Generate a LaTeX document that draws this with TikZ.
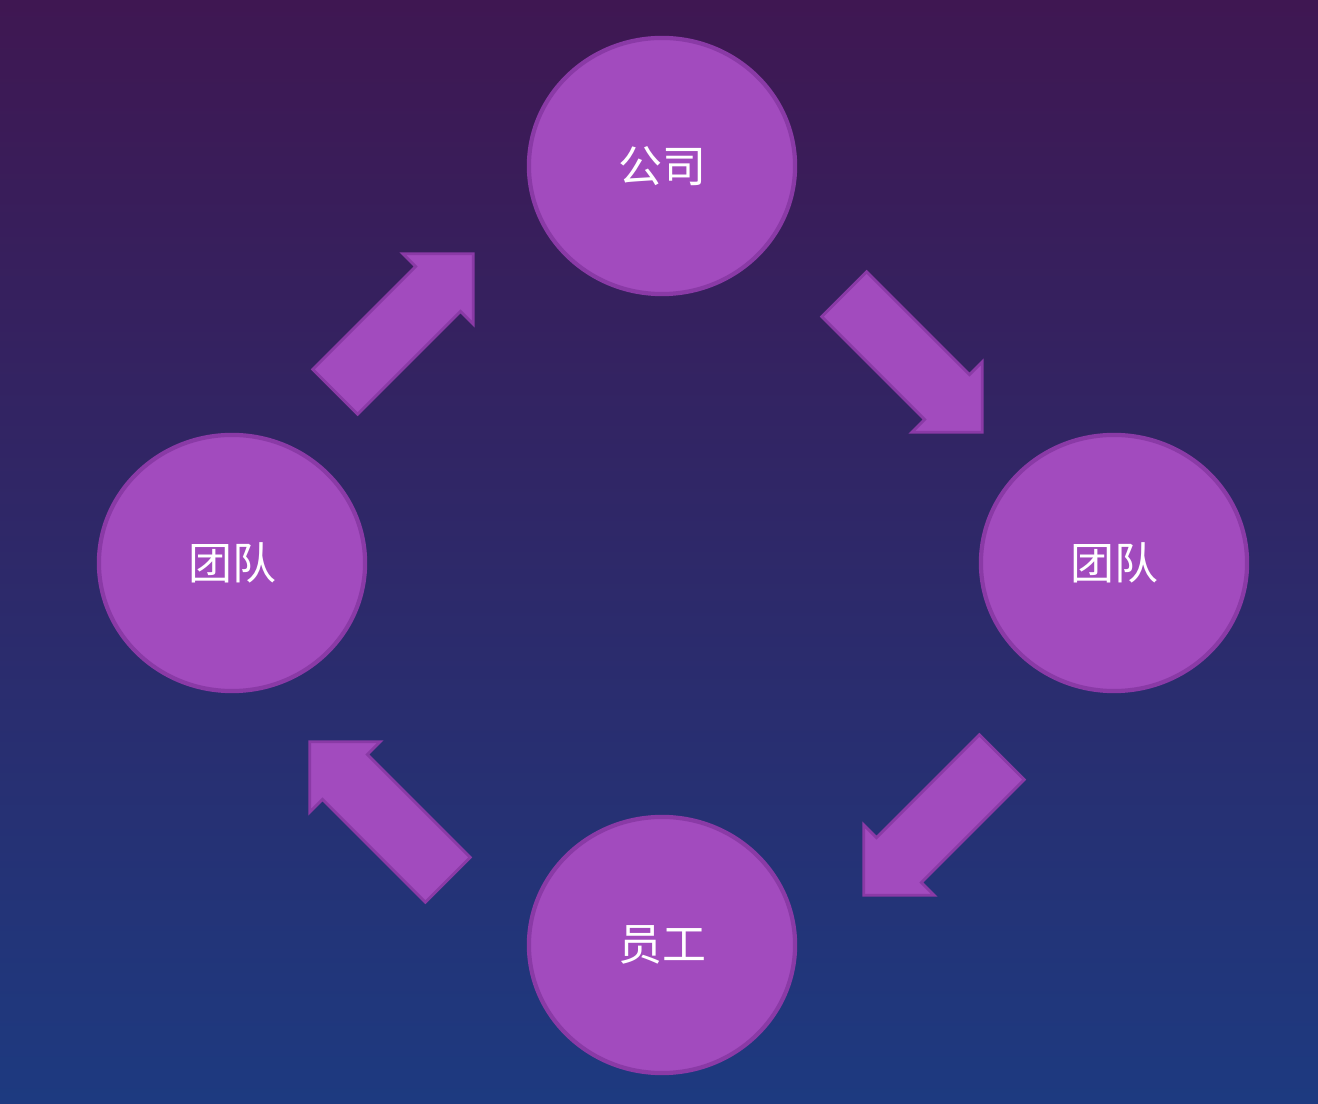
\documentclass[tikz,border=0pt]{standalone}
\usepackage{fontspec}
\newfontfamily\cjk{Noto Sans CJK SC}
\usetikzlibrary{shapes.geometric,shapes.arrows}
\definecolor{bgtop}{HTML}{3F1752}
\definecolor{bgbot}{HTML}{1D3A80}
\definecolor{ballfill}{HTML}{A24BBE}
\definecolor{balldraw}{HTML}{8A3AA6}
\tikzset{
	ball/.style={ellipse, fill=ballfill, draw=balldraw, line width=1.2pt,
		minimum width=2.66cm, minimum height=2.56cm, text=white,
		font=\cjk\fontsize{12.5}{12.5}\selectfont},
	flow/.style={single arrow, fill=ballfill, draw=balldraw, line width=0.8pt,
		minimum height=1.95cm, inner sep=0.21cm, single arrow head extend=0.18cm,
		shape border uses incircle}
}
\begin{document}
\begin{tikzpicture}[x=0.01cm, y=-0.01cm]
	% Hintergrund
	\shade[top color=bgtop, bottom color=bgbot] (0,0) rectangle (1318,1104);
	\useasboundingbox (0,0) rectangle (1318,1104);
	% Kreise
	\node[ball] (firm) at (662,166) {公司};
	\node[ball] (teamL) at (232,563) {团队};
	\node[ball] (teamR) at (1114,563) {团队};
	\node[ball] (staff) at (662,945) {员工};
	% Pfeile
	\node[flow, shape border rotate=45] (upR) at (393,334) {};
	\node[flow, shape border rotate=-45] (downR) at (902,352) {};
	\node[flow, shape border rotate=-135] (downL) at (944,815) {};
	\node[flow, shape border rotate=135] (upL) at (390,822) {};
\end{tikzpicture}
\end{document}
